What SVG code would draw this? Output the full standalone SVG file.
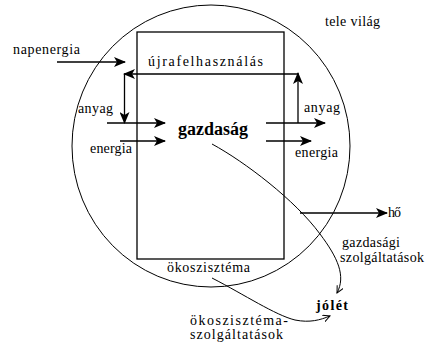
<svg xmlns="http://www.w3.org/2000/svg" width="427" height="344" viewBox="0 0 427 344">
<style>
text{font-family:"Liberation Serif","Times New Roman",serif;font-size:14px;fill:#000}
.b{font-weight:bold}
.g{font-size:18px}
.ln{stroke:#000;stroke-width:1.3;fill:none}
.cv{stroke:#000;stroke-width:1;fill:none}
</style>
<defs>
<marker id="ah" markerWidth="12" markerHeight="10" refX="11" refY="5" orient="auto" markerUnits="userSpaceOnUse">
<path d="M0,0 L12,5 L0,10 L3,5 Z" fill="#000"/>
</marker>
<marker id="oa" markerWidth="8" markerHeight="8" refX="7" refY="4" orient="auto" markerUnits="userSpaceOnUse">
<path d="M0,0.5 L7,4 L0,7.5" fill="none" stroke="#000" stroke-width="1"/>
</marker>
</defs>
<rect width="427" height="344" fill="#fff"/>
<g id="vilag">
<ellipse cx="211" cy="146" rx="139" ry="141" fill="none" stroke="#000" stroke-width="1"/>
<text x="325" y="26" textLength="55" lengthAdjust="spacing">tele világ</text>
</g>
<g id="gazdasag">
<rect x="137" y="32" width="147" height="227" fill="none" stroke="#000" stroke-width="1.3"/>
<text class="b g" x="178" y="135" textLength="70" lengthAdjust="spacing">gazdaság</text>
<text x="167" y="272" textLength="83" lengthAdjust="spacing">ökoszisztéma</text>
</g>
<g id="labels">
<text x="13" y="54" textLength="67" lengthAdjust="spacing">napenergia</text>
<text x="148" y="66" textLength="115" lengthAdjust="spacing">újrafelhasználás</text>
<text x="78" y="113" textLength="35" lengthAdjust="spacing">anyag</text>
<text x="90" y="153" textLength="42" lengthAdjust="spacing">energia</text>
<text x="304" y="112" textLength="36" lengthAdjust="spacing">anyag</text>
<text x="295" y="157" textLength="43" lengthAdjust="spacing">energia</text>
<text x="388" y="217" textLength="13" lengthAdjust="spacing">hő</text>
<text x="342" y="247" textLength="58" lengthAdjust="spacing">gazdasági</text>
<text x="340" y="262" textLength="84" lengthAdjust="spacing">szolgáltatások</text>
<text class="b" x="316" y="310" textLength="32" lengthAdjust="spacing">jólét</text>
<text x="190" y="325" textLength="98" lengthAdjust="spacing">ökoszisztéma-</text>
<text x="190" y="339" textLength="93" lengthAdjust="spacing">szolgáltatások</text>
</g>
<g id="connectors">
<line class="ln" x1="57" y1="62" x2="125" y2="62" marker-end="url(#ah)"/>
<line class="ln" x1="298" y1="74" x2="124" y2="74" marker-end="url(#ah)"/>
<line class="ln" x1="124.5" y1="74" x2="124.5" y2="123" marker-end="url(#ah)"/>
<line class="ln" x1="107" y1="123" x2="165" y2="123" marker-end="url(#ah)"/>
<line class="ln" x1="120" y1="141" x2="165" y2="141" marker-end="url(#ah)"/>
<line class="ln" x1="298" y1="123" x2="298" y2="73" marker-end="url(#ah)"/>
<line class="ln" x1="266" y1="123" x2="325" y2="123" marker-end="url(#ah)"/>
<line class="ln" x1="266" y1="141" x2="311" y2="141" marker-end="url(#ah)"/>
<line class="ln" x1="300" y1="213" x2="387" y2="213" marker-end="url(#ah)"/>
<path class="cv" d="M212,144 C245,162 295,200 320,234 C338,258 346,276 337,293" marker-end="url(#oa)"/>
<path class="cv" d="M212,278 C245,295 275,315 295,320 C310,323 320,320 330,316" marker-end="url(#oa)"/>
</g>
</svg>
